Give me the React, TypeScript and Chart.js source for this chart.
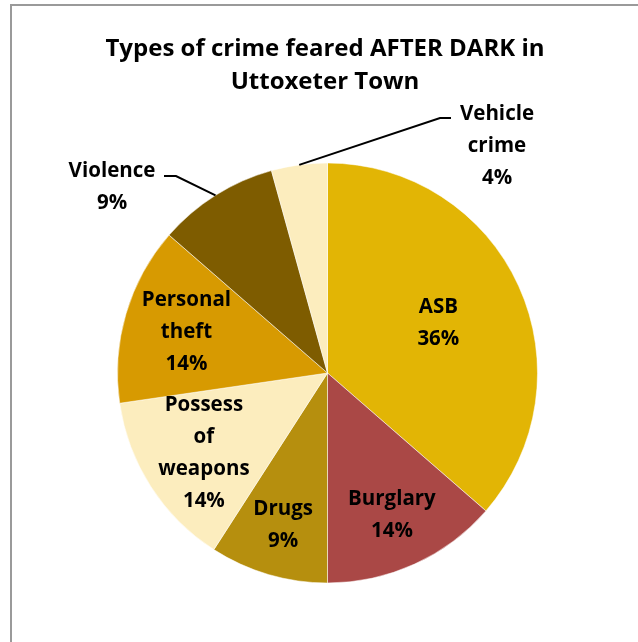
import { useEffect, useRef } from "react";
import { Chart, registerables } from "chart.js";

Chart.register(...registerables);

const TITLE_LINES = ["Types of crime feared AFTER DARK in", "Uttoxeter Town"];
const CATEGORIES = ["ASB", "Burglary", "Drugs", "Possess of weapons", "Personal theft", "Violence", "Vehicle crime"];
const LABEL_LINES = [["ASB"], ["Burglary"], ["Drugs"], ["Possess", "of", "weapons"], ["Personal", "theft"], ["Violence"], ["Vehicle", "crime"]];
const SHARES = [36.4, 13.6, 9.1, 13.6, 13.7, 9.3, 4.3];
const COLORS = ["#E2B505", "#AA4846", "#B68F0E", "#FCEDBE", "#D79A01", "#7E5C00", "#FCEDBE"];

// label placement (layout only)
type Layout = { r?: number; label?: [number, number]; elbow?: [number, number]; end?: [number, number] };
const LABEL_LAYOUT: Layout[] = [
  { r: 0.58 },
  { r: 0.74 },
  { r: 0.75 },
  { r: 0.7 },
  { r: 0.7 },
  { label: [-215.5, -187], elbow: [-151.5, -197], end: [-163.5, -197] },
  { label: [169.5, -228], elbow: [112.5, -255], end: [123.5, -255] },
];

const FONT = "'Open Sans', Lato, sans-serif";

const labelPlugin = {
  id: "customLabels",
  beforeDraw(chart: any) {
    const ctx = chart.ctx;
    ctx.save();
    ctx.fillStyle = "#ffffff";
    ctx.fillRect(0, 0, chart.width, chart.height);
    ctx.strokeStyle = "#9a9a9a";
    ctx.lineWidth = 2;
    ctx.beginPath();
    ctx.moveTo(11, chart.height + 5);
    ctx.lineTo(11, 5);
    ctx.lineTo(chart.width + 5, 5);
    ctx.stroke();
    // title
    ctx.fillStyle = "#000";
    ctx.font = `bold 24px ${FONT}`;
    ctx.textAlign = "center";
    ctx.textBaseline = "middle";
    TITLE_LINES.forEach((t, i) => ctx.fillText(t, 325, 49 + i * 33));
    ctx.restore();
  },
  afterDraw(chart: any) {
    const ctx = chart.ctx;
    const meta = chart.getDatasetMeta(0);
    const data = chart.data.datasets[0].data as number[];
    const total = data.reduce((a, b) => a + b, 0);
    ctx.save();
    ctx.fillStyle = "#000";
    ctx.strokeStyle = "#000";
    ctx.font = `bold 20.5px ${FONT}`;
    ctx.textAlign = "center";
    ctx.textBaseline = "middle";
    const lh = 32;
    meta.data.forEach((arc: any, i: number) => {
      const { x, y, startAngle, endAngle, outerRadius } = arc.getProps(
        ["x", "y", "startAngle", "endAngle", "outerRadius"],
        true
      );
      const mid = (startAngle + endAngle) / 2;
      const lines = [...LABEL_LINES[i], Math.round((data[i] / total) * 100) + "%"];
      const lay = LABEL_LAYOUT[i];
      let cx: number, cy: number;
      if (lay.label) {
        cx = x + lay.label[0];
        cy = y + lay.label[1];
        const ex = x + Math.cos(mid) * outerRadius;
        const ey = y + Math.sin(mid) * outerRadius;
        ctx.lineWidth = 2;
        ctx.beginPath();
        ctx.moveTo(ex, ey);
        ctx.lineTo(x + lay.elbow![0], y + lay.elbow![1]);
        ctx.lineTo(x + lay.end![0], y + lay.end![1]);
        ctx.stroke();
      } else {
        cx = x + Math.cos(mid) * outerRadius * lay.r!;
        cy = y + Math.sin(mid) * outerRadius * lay.r!;
      }
      const top = cy - ((lines.length - 1) * lh) / 2 + 1;
      lines.forEach((t, k) => ctx.fillText(t, cx, top + k * lh));
    });
    ctx.restore();
  },
};

export default function App() {
  const ref = useRef<HTMLCanvasElement | null>(null);
  useEffect(() => {
    if (!ref.current) return;
    const chart = new Chart(ref.current, {
      type: "pie",
      data: {
        labels: CATEGORIES,
        datasets: [
          {
            data: SHARES,
            backgroundColor: COLORS,
            borderColor: "rgba(255,255,255,0.5)",
            borderWidth: 1,
          },
        ],
      },
      options: {
        responsive: false,
        animation: false,
        layout: { padding: { left: 117, right: 100, top: 162.5, bottom: 58.5 } },
        plugins: {
          legend: { display: false },
          tooltip: { enabled: false },
          title: { display: false },
        },
      },
      plugins: [labelPlugin],
    });
    return () => chart.destroy();
  }, []);
  return (
    <div style={{ position: "fixed", left: 0, top: 0, width: 638, height: 642, background: "#fff" }}>
      <canvas ref={ref} width={638} height={642} />
    </div>
  );
}
